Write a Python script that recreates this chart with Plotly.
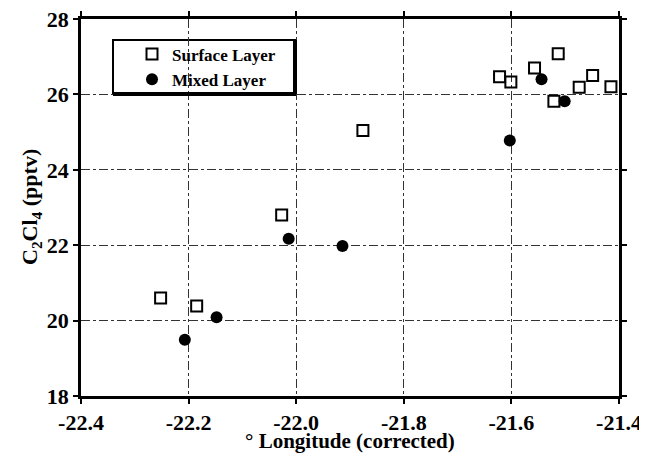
import plotly.graph_objects as go

surf_lon = [-22.252, -22.185, -22.027, -21.876, -21.622, -21.601, -21.557, -21.513, -21.521, -21.474, -21.449, -21.415]
surf_c2cl4 = [20.60, 20.39, 22.80, 25.04, 26.47, 26.33, 26.70, 27.08, 25.82, 26.19, 26.50, 26.20]

mix_lon = [-22.207, -22.148, -22.014, -21.914, -21.603, -21.544, -21.501]
mix_c2cl4 = [19.49, 20.09, 22.17, 21.98, 24.78, 26.40, 25.82]

x_ticks = [-22.4, -22.2, -22.0, -21.8, -21.6, -21.4]
x_tick_labels = ["-22.4", "-22.2", "-22.0", "-21.8", "-21.6", "-21.4"]
y_ticks = [18, 20, 22, 24, 26, 28]
y_tick_labels = ["18", "20", "22", "24", "26", "28"]

font_family = "Liberation Serif"

# page body has an 8px default margin, so the figure is shrunk by that amount
W, H = 639, 445
ML, MR, MT, MB = 73, 28, 11, 57
PW, PH = W - ML - MR, H - MT - MB


def px_x(px):  # screenshot x pixel -> paper fraction
    return (px - 8 - ML) / PW


def px_y(py):  # screenshot y pixel -> paper fraction
    return (H - MB - (py - 8)) / PH


fig = go.Figure()
fig.add_trace(go.Scatter(
    x=surf_lon, y=surf_c2cl4, mode="markers", name="<b>Surface Layer</b>",
    marker=dict(symbol="square-open", size=11, color="black", line=dict(width=2, color="black")),
))
fig.add_trace(go.Scatter(
    x=mix_lon, y=mix_c2cl4, mode="markers", name="<b>Mixed Layer</b>",
    marker=dict(symbol="circle", size=12, color="black"),
))

axis_common = dict(
    showline=True, linecolor="black", linewidth=2.5, mirror="ticks",
    ticks="outside", ticklen=5, tickwidth=2, tickcolor="black",
    showgrid=True, gridcolor="#333333", gridwidth=1, griddash="dashdot",
    zeroline=False, automargin=False, ticklabeloverflow="allow",
    tickfont=dict(family=font_family, size=22, color="black"),
)

fig.update_layout(
    width=W, height=H,
    paper_bgcolor="white", plot_bgcolor="white",
    margin=dict(l=ML, r=MR, t=MT, b=MB),
    font=dict(family=font_family, color="black"),
    xaxis=dict(
        range=[-22.4, -21.4], tickvals=x_ticks,
        ticktext=["<b>%s</b>" % t for t in x_tick_labels],
        **axis_common,
    ),
    yaxis=dict(
        range=[18, 28], tickvals=y_ticks,
        ticktext=["<b>%s</b>" % t for t in y_tick_labels],
        **axis_common,
    ),
    legend=dict(
        x=px_x(132), y=px_y(36.5), xanchor="left", yanchor="top",
        bgcolor="rgba(0,0,0,0)", borderwidth=0,
        font=dict(family=font_family, size=17, color="black"),
        itemwidth=30, tracegroupgap=0,
    ),
    annotations=[
        dict(text="<b>° Longitude (corrected)</b>", xref="paper", yref="paper",
             x=0.5, y=px_y(441), xanchor="center", yanchor="middle", showarrow=False,
             font=dict(family=font_family, size=21, color="black")),
        dict(text="<b>C<sub>2</sub>Cl<sub>4</sub> (pptv)</b>", xref="paper", yref="paper",
             x=px_x(31), y=px_y(207), xanchor="center", yanchor="middle", showarrow=False,
             textangle=-90, font=dict(family=font_family, size=22, color="black")),
    ],
    shapes=[
        dict(type="rect", xref="paper", yref="paper",
             x0=px_x(113), x1=px_x(295), y0=px_y(94), y1=px_y(40),
             line=dict(color="black", width=2), fillcolor="rgba(0,0,0,0)", layer="below"),
        dict(type="line", xref="paper", yref="paper",
             x0=px_x(295), x1=px_x(295), y0=px_y(94), y1=px_y(40),
             line=dict(color="black", width=4)),
        dict(type="line", xref="paper", yref="paper",
             x0=px_x(113), x1=px_x(296), y0=px_y(94), y1=px_y(94),
             line=dict(color="black", width=4)),
    ],
)

fig.write_html("out.html")
